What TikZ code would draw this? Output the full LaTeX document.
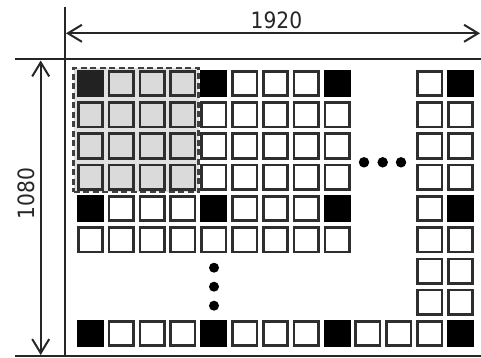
\documentclass[tikz,border=0pt]{standalone}
\usepackage{fontspec}
\newfontfamily\dimfont[FakeStretch=0.9]{DejaVu Sans}
\usetikzlibrary{arrows.meta}
\definecolor{cellline}{HTML}{2E2E2E}
\definecolor{lgray}{HTML}{DADADA}
\definecolor{dgray}{HTML}{222222}
\tikzset{
  cell/.style={draw=cellline, line width=2.6pt, minimum size=24.4pt, inner sep=0pt, outer sep=0pt, fill=white},
  blackcell/.style={cell, fill=black, draw=black},
  graycell/.style={cell, fill=lgray},
  darkcell/.style={cell, fill=dgray, draw=dgray},
  dimline/.style={line width=2pt, draw=black!85},
  dimarrow/.style={line width=2pt, draw=black!85, {Straight Barb[length=14pt,width=17pt,line width=2pt]}-{Straight Barb[length=14pt,width=17pt,line width=2pt]}},
  dimlabel/.style={font=\dimfont\fontsize{22.5}{26}\selectfont, text=black!85, inner sep=0pt},
  dotmark/.style={fill=black, draw=none, circle, minimum size=10.5pt, inner sep=0pt},
  selbox/.style={draw=black!75, line width=2.6pt, dash pattern=on 6pt off 3.5pt, fill=lgray!80}
}
\begin{document}
\begin{tikzpicture}[x=1pt,y=-1pt]
\useasboundingbox (0,0) rectangle (481,358);
% dimension frame
\coordinate (vt) at (65,7);
\coordinate (vb) at (65,356);
\coordinate (hl) at (15,59.5);
\coordinate (hr) at (481,59.5);
\coordinate (bl) at (15,356);
\coordinate (br) at (481,356);
\coordinate (aw) at (66,33.3);
\coordinate (ae) at (480,33.3);
\coordinate (at) at (40.7,60.5);
\coordinate (ab) at (40.7,355);
\draw[dimline] (vt) -- (vb);
\draw[dimline] (hl) -- (hr);
\draw[dimline] (bl) -- (br);
\draw[dimarrow] (aw) -- (ae);
\draw[dimarrow] (at) -- (ab);
\node[dimlabel] (w) at (276.5,20) {1920};
\node[dimlabel, rotate=90] (h) at (26.5,193.5) {1080};
% selection box
\node[selbox, minimum width=125pt, minimum height=124pt, inner sep=0pt] (sel) at (136.2,130) {};
% cells
\foreach \r in {0,...,8}{
  \foreach \c in {0,...,12}{
    \pgfmathsetmacro{\show}{ ( (\r<=5) && (\c<=8) ) || (\r==8) || (\c>=11) ? 1 : 0 }
    \pgfmathsetmacro{\kind}{ (\r==0 && \c==0) ? 3 : ( (mod(\r,4)==0 && mod(\c,4)==0) ? 1 : ( (\r<=3 && \c<=3) ? 2 : 0 ) ) }
    \ifdim\show pt>0.5pt
      \ifdim\kind pt>2.5pt
        \node[darkcell] (c-\r-\c) at ({90.5+30.83*\c},{83.5+31.25*\r}) {};
      \else\ifdim\kind pt>1.5pt
        \node[graycell] (c-\r-\c) at ({90.5+30.83*\c},{83.5+31.25*\r}) {};
      \else\ifdim\kind pt>0.5pt
        \node[blackcell] (c-\r-\c) at ({90.5+30.83*\c},{83.5+31.25*\r}) {};
      \else
        \node[cell] (c-\r-\c) at ({90.5+30.83*\c},{83.5+31.25*\r}) {};
      \fi\fi\fi
    \fi
  }
}
% ellipses
\node[dotmark] (h1) at (364,162.3) {};
\node[dotmark] (h2) at (382.7,162.3) {};
\node[dotmark] (h3) at (401,162.3) {};
\node[dotmark, minimum size=10pt] (v1) at (214,267.7) {};
\node[dotmark, minimum size=10pt] (v2) at (214,286.7) {};
\node[dotmark, minimum size=10pt] (v3) at (214,305.7) {};
\end{tikzpicture}
\end{document}
